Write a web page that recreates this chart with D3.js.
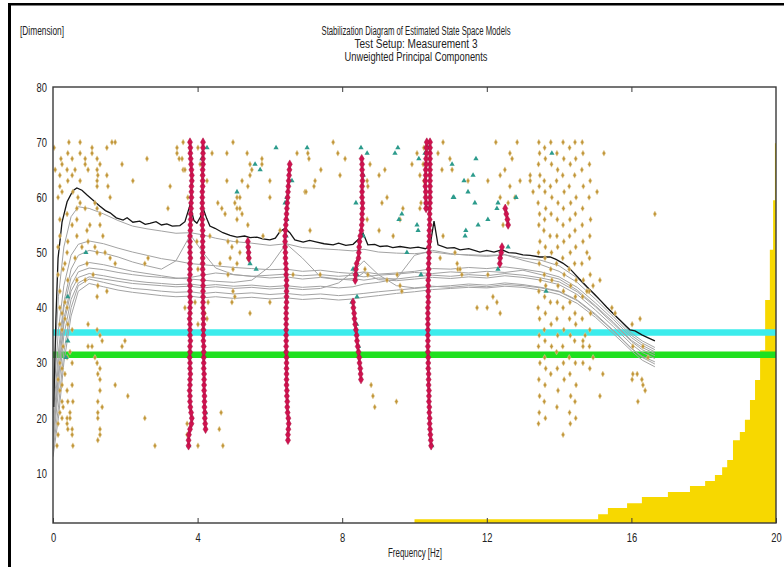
<!DOCTYPE html>
<html>
<head>
<meta charset="utf-8">
<script src="https://cdn.jsdelivr.net/npm/d3@7"></script>
<style>
html, body { margin: 0; padding: 0; background: #fff; }
svg { display: block; }
text { font-family: "Liberation Sans Narrow", "Liberation Sans", Arial, sans-serif; fill: #222; }
</style>
</head>
<body>
<svg id="chart" width="784" height="567"></svg>
<script>
// ---- text -------------------------------------------------------------
const titleLines = [
  "Stabilization Diagram of Estimated State Space Models",
  "Test Setup: Measurement 3",
  "Unweighted Principal Components"
];
const yAxisTitle = "[Dimension]";
const xAxisTitle = "Frequency [Hz]";
const xTicks = [0, 4, 8, 12, 16, 20];
const yTicks = [10, 20, 30, 40, 50, 60, 70, 80];

// ---- horizontal reference levels (model dimension) ---------------------
const cyanLevel = 35.5;
const greenLevel = 31.5;

// ---- singular value spectra (shared frequency grid, Hz) ----------------
const specFreqs = [0, 0.15, 0.3, 0.5, 0.7, 1.0, 1.4, 1.8, 2.2, 2.6, 3.0, 3.4, 3.8, 4.15, 4.5, 5.0, 5.5, 6.0, 6.45, 6.9,
  7.4, 7.9, 8.3, 8.6, 9.0, 9.5, 10.0, 10.5, 11.0, 11.5, 12.0, 12.5, 13.0, 13.5, 14.0, 14.5, 15.0, 15.5, 16.0, 16.3, 16.65];
const spec1 = [25, 42, 51, 56.5, 58.3, 58, 57, 55.8, 54.8, 54.3, 53.9, 53.5, 53.6, 53.2, 52.6, 52.0, 51.7, 51.3, 51.6, 50.9,
  50.7, 50.5, 50.3, 50.6, 50.1, 49.9, 49.8, 50.1, 49.7, 49.6, 49.5, 49.6, 49.0, 48.6, 47.6, 45.4, 42.2, 38.9, 35.4, 34.0, 32.8];
const spec2 = [22, 36, 44, 49.5, 51.5, 52.1, 51.6, 50.8, 50.1, 49.5, 48.9, 48.5, 48.0, 47.8, 47.6, 47.3, 47.1, 46.9, 47.0, 46.6,
  46.8, 46.4, 46.2, 46.5, 46.1, 46.3, 46.6, 47.1, 47.0, 47.3, 47.1, 47.4, 47.0, 46.5, 45.6, 43.7, 40.9, 37.9, 34.6, 33.2, 32.0];
const spec3 = [20, 32, 41, 47, 49.5, 50.4, 49.9, 49.2, 48.3, 47.6, 47.0, 48.5, 53.2, 50.0, 47.2, 46.0, 45.7, 45.4, 45.6, 45.2,
  45.5, 45.1, 45.3, 45.0, 45.4, 45.2, 45.6, 45.9, 45.7, 46.0, 45.8, 46.2, 45.9, 45.4, 44.7, 42.9, 40.2, 37.1, 33.9, 32.4, 31.3];
const spec4 = [18, 30, 40, 45.5, 47.5, 48.2, 47.8, 47.2, 46.6, 46.2, 45.8, 45.4, 45.2, 45.0, 44.8, 44.6, 45.0, 47.5, 51.6, 49.0,
  45.6, 45.2, 45.0, 46.4, 45.1, 44.9, 45.2, 45.5, 45.3, 45.6, 45.4, 45.8, 45.5, 45.0, 44.2, 42.4, 39.6, 36.6, 33.4, 31.9, 30.8];
const spec5 = [16, 27, 37, 43, 45.5, 46.2, 45.8, 45.3, 44.9, 44.6, 44.4, 44.2, 44.3, 44.0, 44.2, 43.9, 44.1, 43.8, 44.0, 43.7,
  43.9, 43.6, 43.8, 44.3, 44.6, 45.2, 49.5, 50.4, 49.8, 49.5, 49.3, 49.6, 48.6, 47.8, 46.6, 44.6, 41.6, 38.4, 35.0, 33.6, 32.4];
const spec6 = [15, 25, 35, 41.5, 44.5, 45.6, 45.2, 44.8, 44.4, 44.2, 44.0, 43.8, 43.9, 43.6, 43.8, 43.5, 43.7, 43.4, 43.6, 43.3,
  43.5, 44.5, 46.5, 48.5, 46.0, 44.0, 43.6, 43.9, 43.7, 44.0, 43.8, 44.2, 44.0, 43.6, 42.9, 41.3, 38.7, 35.8, 32.6, 31.2, 30.2];
const spec7 = [14, 22, 32, 40, 44, 45.2, 44.6, 44.0, 43.5, 43.3, 43.0, 42.8, 42.9, 42.6, 42.8, 42.5, 42.7, 42.4, 42.6, 42.3,
  42.5, 42.2, 42.4, 42.6, 42.9, 43.2, 43.5, 43.8, 44.0, 44.3, 44.1, 44.5, 44.2, 43.7, 43.0, 41.4, 38.9, 35.9, 32.7, 31.0, 29.8];
const spec8 = [13, 20, 30, 38.5, 43, 44.4, 43.8, 43.2, 42.8, 42.5, 42.2, 42.0, 42.1, 41.8, 42.0, 41.7, 41.9, 41.6, 41.8, 41.5,
  41.7, 41.4, 41.6, 41.9, 42.2, 42.6, 42.9, 43.3, 43.5, 43.7, 43.6, 43.9, 43.7, 43.2, 42.4, 40.8, 38.3, 35.3, 32.2, 30.5, 29.3];
const spec9 = [17, 28, 38, 44, 46.5, 47.2, 46.9, 46.4, 46.0, 45.7, 45.5, 45.3, 45.5, 45.9, 46.3, 46.0, 45.7, 45.9, 46.1, 45.8,
  46.0, 45.7, 45.9, 45.6, 45.9, 46.1, 46.4, 46.2, 46.5, 46.3, 46.6, 46.4, 46.8, 46.0, 45.2, 43.2, 40.4, 37.4, 34.1, 32.8, 31.7];

// first singular value, finer grid
const topFreqs = [0.02, 0.08, 0.14, 0.25, 0.39, 0.55, 0.66, 0.80, 0.95, 1.11, 1.3, 1.45, 1.58, 1.75, 1.94, 2.05, 2.21, 2.4, 2.55,
  2.68, 2.85, 3.0, 3.15, 3.3, 3.51, 3.65, 3.79, 3.9, 3.98, 4.08, 4.15, 4.25, 4.34, 4.48, 4.7, 4.9, 5.09, 5.3, 5.45, 5.64, 5.8,
  6.0, 6.15, 6.28, 6.42, 6.55, 6.69, 6.92, 7.1, 7.3, 7.5, 7.75, 7.9, 8.1, 8.3, 8.45, 8.58, 8.71, 8.9, 9.05, 9.24, 9.4, 9.6,
  9.88, 10.1, 10.3, 10.43, 10.54, 10.65, 10.9, 11.1, 11.26, 11.5, 11.81, 12.0, 12.2, 12.42, 12.6, 12.8, 13.0, 13.2, 13.47,
  13.75, 13.9, 14.1, 14.25, 14.38, 14.55, 14.77, 15.0, 15.15, 15.32, 15.5, 15.68, 15.85, 15.96, 16.1, 16.29, 16.45, 16.65];
const topVals = [22, 38, 49, 55.5, 59.2, 61.2, 61.7, 61.3, 60.4, 59.5, 58.4, 57.6, 57.2, 56.3, 55.9, 56.3, 55.5, 55.7, 55.1,
  55.3, 55.6, 55.0, 55.2, 54.8, 54.9, 55.6, 58.6, 55.8, 55.3, 56.5, 58.1, 56.2, 54.8, 54.4, 53.6, 53.1, 52.8, 53.0, 52.7, 52.8, 52.5,
  52.3, 52.6, 53.8, 54.4, 53.6, 52.3, 51.9, 52.2, 51.9, 51.6, 51.4, 51.7, 51.3, 51.5, 52.4, 53.5, 51.4, 51.5, 51.1, 51.2, 50.9, 51.1,
  50.8, 51.0, 50.7, 51.2, 55.7, 51.4, 50.8, 50.9, 50.5, 50.7, 50.1, 50.4, 50.1, 50.5, 50.0, 49.9, 49.6, 49.5, 49.2,
  49.2, 48.8, 48.1, 47.4, 46.5, 45.3, 43.8, 42.3, 41.3, 40.1, 38.9, 37.8, 36.7, 36.0, 35.8, 35.1, 34.6, 34.0];

// ---- stable poles: frequency per model order ---------------------------
const stable1Start = 15;
const stable1 = [3.75, 3.75, 3.76, 3.79, 3.83, 3.84, 3.82, 3.80, 3.79, 3.79, 3.78, 3.79, 3.79, 3.80, 3.79, 3.79, 3.78, 3.79, 3.79, 3.80,
  3.79, 3.79, 3.79, 3.78, 3.79, 3.79, 3.80, 3.79, 3.79, 3.79, 3.78, 3.79, 3.79, 3.79, 3.80, 3.79, 3.79, 3.79, 3.79, 3.80,
  3.80, 3.81, 3.81, 3.82, 3.82, 3.83, 3.83, 3.83, 3.84, 3.84, 3.83, 3.82, 3.81, 3.80, 3.80, 3.79];
const stable2Start = 18;
const stable2 = [4.22, 4.21, 4.20, 4.20, 4.19, 4.19, 4.19, 4.18, 4.18, 4.18, 4.18, 4.17, 4.17, 4.17, 4.17, 4.17, 4.16, 4.16, 4.16, 4.16,
  4.16, 4.16, 4.15, 4.15, 4.15, 4.15, 4.15, 4.15, 4.15, 4.14, 4.14, 4.14, 4.14, 4.14, 4.14, 4.14, 4.14, 4.13, 4.13, 4.13,
  4.13, 4.13, 4.13, 4.13, 4.14, 4.14, 4.14, 4.14, 4.15, 4.15, 4.15, 4.15, 4.15];
const stable3Start = 16;
const stable3 = [6.50, 6.50, 6.51, 6.52, 6.51, 6.49, 6.48, 6.48, 6.47, 6.47, 6.46, 6.46, 6.46, 6.46, 6.46, 6.46, 6.45, 6.45, 6.45, 6.45,
  6.45, 6.45, 6.45, 6.45, 6.45, 6.46, 6.46, 6.46, 6.46, 6.46, 6.45, 6.45, 6.44, 6.43, 6.43, 6.42, 6.42, 6.42, 6.43, 6.44,
  6.45, 6.46, 6.47, 6.48, 6.49, 6.50, 6.51, 6.52, 6.53, 6.54, 6.55];
const stable4Start = 27;
const stable4 = [8.52, 8.51, 8.50, 8.48, 8.47, 8.45, 8.43, 8.41, 8.40, 8.38, 8.36, 8.34, 8.33, 8.31, 8.30, null, null, null, 8.36, 8.37,
  8.38, 8.40, 8.45, 8.46, 8.47, 8.48, 8.50, 8.53, 8.54, 8.55, 8.55, 8.56, 8.56, 8.55, 8.55, 8.55, 8.56, 8.56, 8.55, 8.55, 8.54];
const stable5Start = 15;
const stable5 = [10.46, 10.45, 10.44, 10.43, 10.42, 10.42, 10.41, 10.41, 10.40, 10.40, 10.40, 10.39, 10.39, 10.39, 10.38, 10.38,
  10.38, 10.37, 10.37, 10.37, 10.37, 10.37, 10.37, 10.37, 10.37, 10.37, 10.38, 10.38, 10.38, 10.38, 10.38, 10.39, 10.39, 10.39,
  10.40, 10.40, 10.40, 10.41, 10.41, 10.41, 10.42, 10.42, 10.42, 10.42, 10.43, 10.43, 10.43, 10.43, 10.43, 10.43, 10.43, 10.43,
  10.43, 10.43, 10.43, 10.43];
const stable6Start = 58;
const stable6 = [10.32, 10.32, 10.31, 10.31, 10.30, 10.30, 10.31, 10.31, 10.32, 10.32, 10.33, 10.33, 10.34];
const stable7Start = 55;
const stable7 = [12.59, 12.57, 12.54, 12.51];
const stable8Start = 48;
const stable8 = [12.36, 12.37, 12.40, 12.42];
const stable9Start = 49;
const stable9 = [5.42, 5.41, 5.40, 5.39];

// ---- poles stable in frequency only: [Hz, order] ------------------------
const freqStable = [[4.26,69],[4.12,67],[6.17,69],[7.03,69],[5.59,66],[5.73,65],[5.09,61],[6.61,63],[6.47,60],[6.42,59],
  [6.47,56],[6.45,53],[5.45,48],[5.62,47],[8.52,69],[8.69,68],[9.54,69],[9.46,68],[10.12,67],[10.29,68],[10.40,69],
  [11.04,66],[8.58,64],[8.38,59],[10.32,59],[10.35,58],[9.65,57],[9.57,56],[11.07,60],[10.07,55],[10.10,54],[9.79,50],
  [8.30,47],[8.41,46],[8.27,41],[8.41,42],[10.18,46],[11.70,67],[11.62,64],[11.37,63],[11.48,61],[11.09,60],[11.67,59],
  [13.80,68],[12.81,60],[12.31,59],[12.28,58],[12.03,56],[11.76,55],[11.42,54],[11.40,53],[12.59,51],[12.31,47],[13.64,43],
  [3.76,15],[10.48,15],[0.41,42],[0.41,34],[0.36,31],[0.91,50],[8.58,53],[4.22,21],[8.40,37],[8.45,33]];

// ---- unstable poles: [Hz, order] ----------------------------------------
const unstable = [[0.03,69],[0.44,70],[0.75,70],[1.08,69],[1.72,70],[1.63,70],[1.49,69],[0.22,67],[0.41,68],[0.53,67],
  [0.75,68],[0.89,67],[1.08,68],[1.22,67],[1.30,66],[0.25,66],[0.06,65],[0.39,65],[0.61,65],[0.89,66],[1.22,65],[1.24,64],
  [1.91,66],[2.60,67],[0.19,64],[0.53,64],[0.97,65],[1.22,63],[1.49,64],[0.41,63],[0.75,63],[0.19,62],[1.22,62],[1.52,62],
  [2.21,63],[0.25,61],[0.55,61],[0.69,60],[0.14,60],[0.75,59],[1.16,59],[1.58,60],[0.66,58],[0.89,58],[0.39,57],[1.22,58],
  [1.30,57],[3.43,69],[3.57,67],[3.60,65],[3.24,62],[3.18,58],[0.19,56],[0.53,55],[0.66,56],[0.94,54],[1.02,55],[1.30,55],
  [1.38,53],[0.19,53],[0.41,52],[0.66,53],[0.80,51],[0.97,52],[1.16,51],[0.14,51],[0.39,50],[0.33,48],[0.61,49],[0.94,48],
  [1.22,50],[1.44,50],[1.58,49],[1.72,48],[2.54,48],[2.63,49],
  [0.14,46],[0.28,47],[0.41,45],[0.66,45],[0.89,45],[1.11,46],[1.24,44],[1.49,43],[0.19,43],[0.33,41],[1.22,42],[0.19,40],
  [0.39,40],[0.25,39],[0.33,38],[0.41,37],[0.19,37],[0.25,36],[0.53,36],[0.97,37],[1.22,36],[1.30,35],[1.36,34],[0.97,33],
  [1.08,33],[1.91,33],[1.99,34],[0.28,33],[0.47,32],[0.39,31],[0.19,30],[0.53,30],[1.16,31],[1.22,30],[1.30,29],[0.25,29],
  [0.33,28],[0.14,27],[1.24,28],[1.30,27],[0.25,26],[0.53,26],[1.72,26],[2.07,24],[0.19,25],[0.39,25],[0.25,23],[0.41,23],
  [0.28,22],[0.47,21],[0.55,23],[1.30,25],[1.24,23],[1.36,22],[0.19,21],[0.25,20],[0.39,20],[0.47,20],[0.14,19],[0.39,19],
  [0.53,18],[0.14,17],[0.53,17],[0.41,18],[1.24,21],[1.24,20],[1.30,18],[1.30,17],[1.24,16],[0.11,15],[0.55,15],[2.54,20],
  [2.82,15],[3.71,19],[3.71,17],[4.01,15],
  [3.43,68],[3.60,70],[4.01,69],[4.40,68],[4.98,70],[5.37,68],[4.81,68],[3.65,65],[3.49,67],[4.07,66],[4.81,63],[5.45,66],
  [6.00,63],[5.78,66],[5.78,67],[6.75,68],[7.05,68],[7.25,63],[6.97,61],[5.45,64],[5.50,65],[5.23,63],[5.39,62],[5.09,60],
  [5.03,59],[5.09,58],[5.17,60],[4.67,58],[4.76,57],[5.17,58],[5.23,57],[5.09,56],[4.56,59],[6.00,60],[5.81,53],[6.28,54],
  [7.11,54],[5.39,55],[3.73,60],[4.26,63],[4.12,64],[3.98,52],[4.84,52],[4.34,53],[5.09,52],[4.95,51],[5.17,50],[5.39,49],
  [4.90,49],[4.62,48],[4.84,46],[4.98,47],[5.09,48],[4.01,47],[4.98,43],[5.03,42],[4.95,41],[3.65,40],[3.93,41],[4.29,41],
  [6.00,41],[4.20,39],[5.45,39],[4.01,37],[4.26,38],[6.64,46],[4.65,21],[4.70,15],[4.60,18],
  [7.75,70],[7.88,68],[8.08,67],[7.08,67],[7.41,65],[7.94,64],[8.77,66],[7.00,61],[7.22,62],[9.02,64],[9.18,65],[9.93,66],
  [10.07,68],[10.26,69],[10.65,68],[10.79,70],[10.98,67],[10.76,65],[11.04,65],[8.69,63],[8.71,62],[9.10,59],[9.24,60],
  [9.68,58],[9.60,56],[10.18,59],[10.15,58],[10.26,63],[10.15,64],[10.24,66],[8.69,56],[9.02,54],[9.41,53],[9.24,45],
  [9.52,46],[9.60,44],[9.65,43],[8.63,47],[8.71,46],[7.39,46],[10.71,49],[11.12,50],[11.18,48],[11.20,47],[10.79,53],
  [8.80,26],[8.85,24],[8.90,22],[9.50,23],
  [12.25,70],[12.84,70],[12.64,68],[11.48,63],[12.03,63],[12.70,67],[12.37,64],[12.50,65],[12.92,63],[12.64,62],[12.78,60],
  [13.20,63],[13.28,61],[12.37,60],[12.59,59],[12.45,55],[11.26,47],[11.31,46],[12.03,46],[12.17,42],[12.28,41],[11.73,40],
  [12.01,40],[12.37,39],[13.20,64],
  [13.44,70],[13.46,68],[13.43,66],[13.47,64],[13.45,62],[13.42,59],[13.46,57],[13.44,55],[13.47,52],[13.43,50],[13.45,48],
  [13.48,45],[13.44,43],[13.42,40],[13.46,38],[13.45,35],[13.43,33],[13.47,30],[13.44,27],[13.46,24],[13.45,21],[13.43,19],
  [13.60,69],[13.62,67],[13.59,63],[13.61,61],[13.63,58],[13.60,56],[13.58,54],[13.62,51],[13.61,49],[13.59,46],[13.63,44],
  [13.60,42],[13.62,39],[13.59,36],[13.61,34],[13.60,31],[13.63,29],[13.61,26],[13.59,23],[13.62,20],
  [13.77,70],[13.79,66],[13.76,62],[13.80,60],[13.78,57],[13.75,53],[13.79,50],[13.77,47],[13.80,45],[13.76,41],[13.78,37],
  [13.79,33],[13.77,28],
  [13.94,68],[13.96,65],[13.93,63],[13.97,59],[13.95,56],[13.94,53],[13.96,51],[13.93,48],[13.97,44],[13.95,41],[13.94,38],
  [13.96,35],[13.93,32],[13.95,29],[13.97,25],[13.94,22],
  [14.11,70],[14.13,67],[14.10,64],[14.14,61],[14.12,58],[14.11,55],[14.13,52],[14.10,49],[14.14,46],[14.12,43],[14.11,40],
  [14.13,36],[14.10,33],[14.12,30],[14.14,27],[14.11,17],
  [14.29,69],[14.31,66],[14.28,62],[14.32,59],[14.30,56],[14.29,53],[14.31,50],[14.28,47],[14.32,44],[14.30,41],[14.29,38],
  [14.31,35],[14.28,31],[14.30,28],[14.32,24],[14.29,21],[14.31,19],
  [14.44,70],[14.46,67],[14.43,64],[14.47,60],[14.45,57],[14.44,54],[14.46,51],[14.43,48],[14.47,45],[14.45,42],[14.44,39],
  [14.46,37],[14.43,34],[14.45,30],[14.47,26],[14.44,23],[14.46,20],
  [14.64,70],[14.66,68],[14.63,65],[14.67,62],[14.65,58],[14.64,55],[14.66,52],[14.63,48],[14.67,45],[14.65,42],[14.64,38],
  [14.66,34],
  [14.84,66],[14.86,63],[14.83,60],[14.87,56],[14.85,53],[14.84,49],[14.86,46],[14.83,43],[14.87,39],[14.85,36],[14.84,33],
  [14.77,50],[15.13,45],[14.94,44],[14.77,43],[14.72,35],[14.66,33],[14.94,31],[14.85,29],[15.21,28],[15.13,24],[15.46,40],
  [15.55,39],[16.02,37],[16.24,38],[16.04,33],[16.32,33],[16.46,31],[16.02,27],[16.04,28],[16.16,28],[16.29,27],[16.32,26],
  [16.38,25],[16.18,23],[14.66,30],[16.65,57],[15.24,68],[15.05,61]];

// ---- cumulative pole count (right-hand step area) ----------------------
const countFreqs = [10.0, 15.08, 15.35, 15.88, 16.29, 17.01, 17.62, 18.04, 18.31, 18.51, 18.65, 18.81, 19.0, 19.14, 19.28,
  19.42, 19.56, 19.70, 19.83, 19.92, 19.97, 20.0];
const countVals = [1.7, 2.6, 3.7, 4.6, 5.7, 6.6, 7.7, 8.6, 9.7, 11.1, 12.4, 16.0, 17.5, 19.7, 23.3, 26.9, 32.3, 41.4, 50.5,
  59.5, 69.8, 69.8];

// ---- drawing -----------------------------------------------------------
const svg = d3.select("#chart");
const plot = { left: 53, right: 776, top: 87, bottom: 523 };
const x = d3.scaleLinear().domain([0, 20]).range([plot.left, plot.right]);
const y = d3.scaleLinear().domain([1, 80]).range([plot.bottom, plot.top]);

// condensed label: fixed width per character
function narrowText(sel, perChar) {
  sel.each(function () {
    const t = d3.select(this);
    t.attr("textLength", perChar * t.text().length).attr("lengthAdjust", "spacingAndGlyphs");
  });
}

// outer window edges
svg.append("rect").attr("x", 8).attr("y", 3).attr("width", 3).attr("height", 564).attr("fill", "#000");
svg.append("rect").attr("x", 8).attr("y", 3).attr("width", 776).attr("height", 2.5).attr("fill", "#000");

svg.append("defs").append("clipPath").attr("id", "plotClip")
  .append("rect").attr("x", plot.left).attr("y", plot.top)
  .attr("width", plot.right - plot.left).attr("height", plot.bottom - plot.top);

const g = svg.append("g").attr("clip-path", "url(#plotClip)");

// cumulative count
const countData = countFreqs.map((f, i) => [f, countVals[i]]);
g.append("path")
  .datum(countData)
  .attr("fill", "#f7d800")
  .attr("d", d3.area().curve(d3.curveStepAfter)
    .x(d => x(d[0])).y0(y(1)).y1(d => y(d[1])));

// reference levels
[[cyanLevel, "#3cecec"], [greenLevel, "#1fe01f"]].forEach(([lv, c]) => {
  g.append("line")
    .attr("x1", x(0)).attr("x2", x(20))
    .attr("y1", y(lv)).attr("y2", y(lv))
    .attr("stroke", c).attr("stroke-width", 6.5);
});

// spectra
const specLine = d3.line().x(d => x(d[0])).y(d => y(d[1]));
[spec1, spec2, spec3, spec4, spec5, spec6, spec7, spec8, spec9].forEach(vals => {
  g.append("path")
    .datum(specFreqs.map((f, i) => [f, vals[i]]))
    .attr("fill", "none").attr("stroke", "#a3a3a3").attr("stroke-width", 1)
    .attr("d", specLine);
});
g.append("path")
  .datum(topFreqs.map((f, i) => [f, topVals[i]]))
  .attr("fill", "none").attr("stroke", "#151515").attr("stroke-width", 1.3)
  .attr("d", specLine);

// unstable poles
const goldSym = d3.symbol().type(d3.symbolDiamond).size(10);
g.append("g").selectAll("path").data(unstable).join("path")
  .attr("transform", d => `translate(${x(d[0])},${y(d[1])})`)
  .attr("d", goldSym())
  .attr("fill", "#c1963a").attr("stroke", "#e6d3a0").attr("stroke-width", 0.5);

// frequency-stable poles
const triSym = d3.symbol().type(d3.symbolTriangle).size(12);
g.append("g").selectAll("path").data(freqStable).join("path")
  .attr("transform", d => `translate(${x(d[0])},${y(d[1])})`)
  .attr("d", triSym())
  .attr("fill", "#2c9b8c");

// stable poles
const stableSets = [
  [stable1Start, stable1], [stable2Start, stable2], [stable3Start, stable3], [stable4Start, stable4],
  [stable5Start, stable5], [stable6Start, stable6], [stable7Start, stable7], [stable8Start, stable8],
  [stable9Start, stable9]
];
const stablePts = [];
stableSets.forEach(([start, fs]) => fs.forEach((f, i) => { if (f !== null) stablePts.push([f, start + i]); }));
const redSym = d3.symbol().type(d3.symbolDiamond).size(22);
g.append("g").selectAll("path").data(stablePts).join("path")
  .attr("transform", d => `translate(${x(d[0])},${y(d[1])})`)
  .attr("d", redSym())
  .attr("fill", "#d0124f").attr("stroke", "#a80c3e").attr("stroke-width", 0.5);

// frame
svg.append("rect")
  .attr("x", plot.left).attr("y", plot.top)
  .attr("width", plot.right - plot.left).attr("height", plot.bottom - plot.top)
  .attr("fill", "none").attr("stroke", "#3a3a3a").attr("stroke-width", 1.4);

// axes
const xAxis = svg.append("g").attr("transform", `translate(0,${plot.bottom})`)
  .call(d3.axisBottom(x).tickValues(xTicks).tickFormat(d3.format("d")).tickSizeInner(-5).tickSizeOuter(0).tickPadding(10));
xAxis.select(".domain").remove();
xAxis.selectAll("line").attr("stroke", "#3a3a3a");
xAxis.selectAll("text").attr("font-size", 12.5).attr("fill", "#2a2a2a").attr("font-family", null).call(narrowText, 5.2);

const xTop = svg.append("g").attr("transform", `translate(0,${plot.top})`)
  .call(d3.axisTop(x).tickValues(xTicks.slice(1, -1)).tickFormat("").tickSizeInner(-5).tickSizeOuter(0));
xTop.select(".domain").remove();
xTop.selectAll("line").attr("stroke", "#3a3a3a");

const yAxis = svg.append("g").attr("transform", `translate(${plot.left},0)`)
  .call(d3.axisLeft(y).tickValues(yTicks).tickFormat(d3.format("d")).tickSize(0).tickPadding(6));
yAxis.select(".domain").remove();
yAxis.selectAll("text").attr("font-size", 12.5).attr("fill", "#2a2a2a").attr("font-family", null).call(narrowText, 5.2);

// titles
const titleY = [31, 44, 57];
const titleW = [189, 123, 143];
titleLines.forEach((t, i) => {
  svg.append("text")
    .attr("x", 416).attr("y", titleY[i]).attr("dy", "0.35em")
    .attr("text-anchor", "middle").attr("font-size", 12)
    .attr("textLength", titleW[i]).attr("lengthAdjust", "spacingAndGlyphs")
    .text(t);
});
svg.append("text")
  .attr("x", 20).attr("y", 31).attr("dy", "0.35em")
  .attr("font-size", 12).attr("textLength", 44).attr("lengthAdjust", "spacingAndGlyphs")
  .text(yAxisTitle);
svg.append("text")
  .attr("x", 415).attr("y", 553).attr("dy", "0.35em")
  .attr("text-anchor", "middle").attr("font-size", 12.5)
  .attr("textLength", 54).attr("lengthAdjust", "spacingAndGlyphs")
  .text(xAxisTitle);
</script>
</body>
</html>
